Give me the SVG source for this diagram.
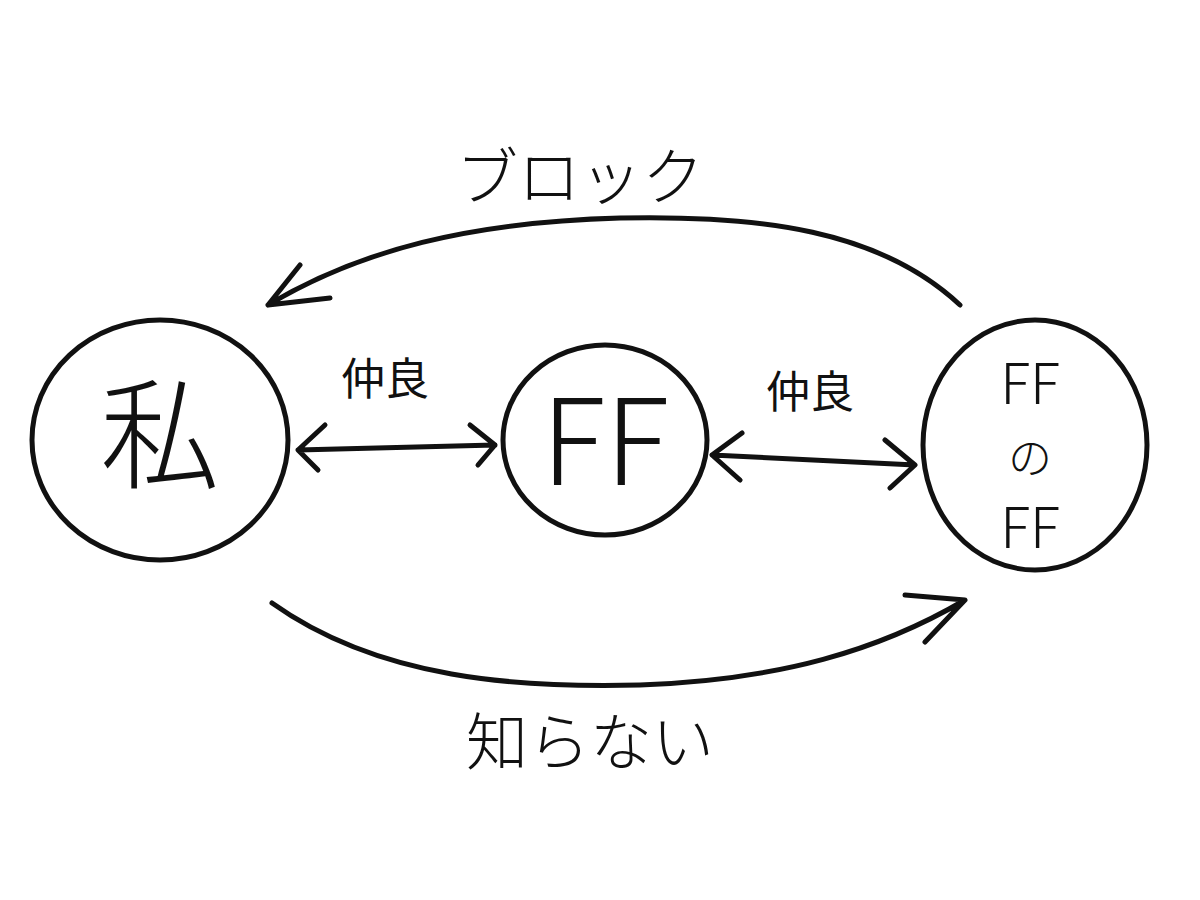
<svg xmlns="http://www.w3.org/2000/svg" width="1200" height="900" viewBox="0 0 1200 900">
<style>
.s{fill:none;stroke:#111;stroke-width:5;stroke-linecap:round;stroke-linejoin:round}
.t{font-family:"Noto Sans CJK JP","Liberation Sans",sans-serif;fill:#111;text-anchor:middle}
</style>
<rect width="1200" height="900" fill="#fff"/>
<g id="node-watashi">
<ellipse class="s" cx="160" cy="440" rx="128" ry="120"/>
<text class="t" x="160" y="480" font-size="120" font-weight="300">私</text>
</g>
<g id="node-ff">
<ellipse class="s" cx="605" cy="440" rx="102" ry="95"/>
<text class="t" x="605" y="485" font-size="120" font-weight="300">FF</text>
</g>
<g id="node-ffnoff">
<ellipse class="s" cx="1035" cy="445" rx="112" ry="125"/>
<text class="t" x="1030" y="404" font-size="56" font-weight="300">FF</text>
<text class="t" x="1030" y="474" font-size="44" font-weight="300">の</text>
<text class="t" x="1030" y="548" font-size="56" font-weight="300">FF</text>
</g>
<g id="connectors">
<path class="s" d="M298 450 L495 445 M325 425 L298 450 L318 470 M470 425 L495 445 L478 465"/>
<path class="s" d="M712 455 L915 465 M742 433 L712 455 L740 480 M885 440 L915 465 L890 488"/>
<path class="s" d="M960 305 C880 230 760 215 620 218 C470 222 360 250 268 305 M300 265 L268 305 L330 298"/>
<path class="s" d="M272 603 C380 680 520 688 640 685 C780 680 880 650 965 600 M905 595 L965 600 L925 642"/>
<text class="t" x="385" y="395" font-size="44">仲良</text>
<text class="t" x="810" y="408" font-size="44">仲良</text>
<text class="t" x="580" y="200" font-size="62" font-weight="300">ブロック</text>
<text class="t" x="590" y="765" font-size="62" font-weight="300">知らない</text>
</g>
</svg>
